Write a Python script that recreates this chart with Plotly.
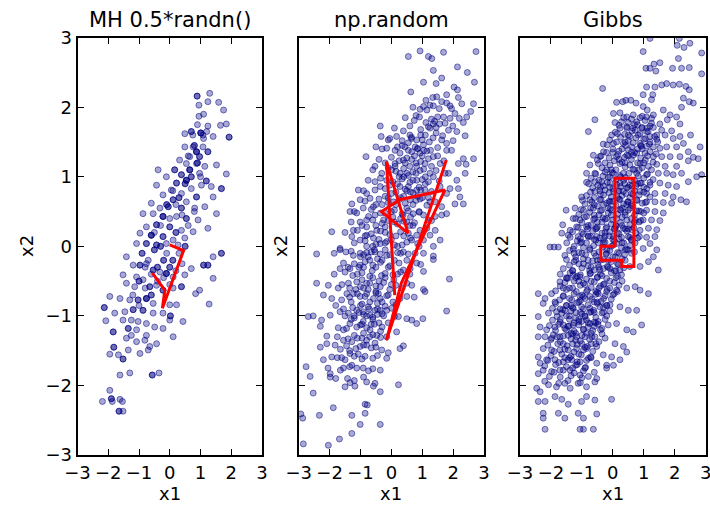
import plotly.graph_objects as go

# ---------------- data ----------------
titles = ["MH 0.5*randn()", "np.random", "Gibbs"]
tick_values = [-3, -2, -1, 0, 1, 2, 3]

mh_points = [
    (0.89, 2.16), (1.30, 2.20), (0.95, 2.03), (1.24, 2.08), (1.59, 2.07), (1.75, 1.96), (0.95, 1.87),
    (1.84, 1.76), (1.93, 1.57), (1.65, 1.74), (1.24, 1.73), (1.01, 1.63), (0.49, 1.62), (0.70, 1.65),
    (1.41, 1.58), (1.08, 1.60), (0.76, 1.43), (0.49, 1.43), (1.08, 1.43), (0.87, 1.36), (1.24, 1.36),
    (0.65, 1.29), (0.97, 1.29), (0.32, 1.24), (0.54, 1.19), (0.87, 1.19), (1.52, 1.17), (1.14, 1.15),
    (0.65, 1.10), (0.16, 1.10), (-0.38, 1.10), (0.97, 1.05), (0.38, 1.03), (1.84, 1.04), (-0.11, 1.00),
    (0.54, 0.95), (1.19, 0.94), (0.22, 0.91), (-0.43, 0.88), (1.03, 0.88), (1.35, 0.86), (1.68, 0.83),
    (0.70, 0.83), (0.05, 0.81), (0.38, 0.76), (-0.22, 0.74), (0.87, 0.71), (1.41, 0.71), (0.11, 0.67),
    (-0.60, 0.62), (0.54, 0.64), (-0.87, 0.47), (-0.32, 0.55), (-0.05, 0.57), (0.38, 0.55), (0.81, 0.55),
    (1.14, 0.57), (1.52, 0.47), (-0.54, 0.47), (-0.22, 0.43), (0.22, 0.43), (0.54, 0.40), (0.92, 0.38),
    (1.24, 0.26), (-0.76, 0.28), (-0.43, 0.31), (0.00, 0.28), (0.38, 0.23), (0.76, 0.21), (-0.97, 0.19),
    (-0.60, 0.16), (-0.22, 0.14), (0.11, 0.09), (0.49, 0.12), (-1.08, 0.04), (-0.76, 0.04), (-0.43, 0.02),
    (-0.11, 0.04), (0.27, 0.02),
    (1.68, -0.10), (1.41, -0.15), (1.10, -0.27), (1.24, -0.27), (0.70, -0.32), (1.41, -0.46), (0.49, -0.41),
    (0.11, -0.44), (-0.32, -0.37), (-0.11, -0.39), (-0.54, -0.34), (-0.76, -0.25), (-0.97, -0.27),
    (-1.19, -0.27), (-1.41, -0.15), (-1.52, -0.41), (-1.08, -0.44), (-0.87, -0.48), (-1.41, -0.53),
    (-1.14, -0.58), (-0.65, -0.58), (-0.43, -0.56), (-0.22, -0.63), (0.11, -0.60), (0.38, -0.58),
    (0.97, -0.63), (0.84, -0.68), (-1.95, -0.72), (-1.62, -0.75), (-1.30, -0.77), (-1.03, -0.77),
    (-0.76, -0.75), (-0.54, -0.82), (0.00, -0.84), (0.22, -0.84), (1.28, -0.83), (-2.13, -0.88),
    (-1.79, -0.96), (-1.46, -0.94), (-1.19, -0.91), (-0.87, -0.92), (-0.54, -0.96), (-0.22, -0.96),
    (0.02, -1.00), (0.00, -1.06), (0.43, -1.08), (-2.08, -1.07), (-1.52, -1.06), (-1.25, -1.06),
    (-1.03, -1.08), (-0.76, -1.11), (-0.49, -1.16), (-0.22, -1.18), (-1.84, -1.23), (-1.35, -1.18),
    (-1.08, -1.20), (-0.76, -1.28), (-0.43, -1.40), (0.11, -1.30), (-1.25, -1.28), (-1.41, -1.32),
    (-1.08, -1.37), (-0.81, -1.35), (-1.82, -1.45), (-1.95, -1.55), (-1.67, -1.56), (-1.52, -1.62),
    (-1.35, -1.49), (-0.97, -1.54), (-0.70, -1.49), (-0.65, -1.44), (-1.62, -1.85), (-1.30, -1.82),
    (-0.57, -1.85), (-0.35, -1.82), (-1.95, -2.07), (-2.19, -2.23), (-1.90, -2.19), (-1.87, -2.23),
    (-1.62, -2.20), (-1.54, -2.23), (-1.65, -2.37), (-1.52, -2.37),
    (-0.9, -0.1), (-0.7, -0.2), (-0.5, -0.05), (-0.3, 0.0), (-0.1, -0.1), (0.1, -0.2), (0.3, -0.1),
    (0.5, 0.0), (-0.6, -0.4), (-0.4, -0.3), (-0.2, -0.2), (0.0, -0.3), (0.2, -0.35), (0.4, -0.25),
    (-1.0, -0.5), (-0.8, -0.6), (-0.6, -0.7), (-0.4, -0.5), (-0.2, -0.45), (0.0, -0.55), (-1.2, -0.7),
    (-1.0, -0.85), (-0.8, -0.3), (-0.5, 0.2), (-0.3, 0.3), (0.0, 0.4), (0.2, 0.2), (0.4, 0.45),
    (0.6, 0.3), (0.8, 0.5), (0.3, 0.7), (0.5, 0.9), (0.7, 1.0), (0.9, 1.2), (1.0, 1.0), (0.6, 1.3),
    (0.8, 1.45), (0.2, 0.6), (-0.1, 0.6), (0.1, 0.8), (1.1, 1.55), (0.75, 1.6), (0.9, 1.75),
    (1.2, 1.65), (1.1, 1.9),
]
# MH samples that were repeated (rejected proposals keep the chain in place)
mh_repeated = [
    (0.89, 2.16), (1.93, 1.57), (1.01, 1.63), (0.70, 1.65), (0.87, 1.36), (1.24, 1.36), (0.97, 1.29),
    (0.65, 1.10), (0.54, 0.95), (0.16, 1.10), (0.38, 1.03), (1.19, 0.94), (1.68, 0.83), (0.22, 0.91),
    (0.87, 0.71), (0.11, 0.67), (0.38, 0.55), (-0.05, 0.57), (0.54, 0.40), (-0.22, 0.43), (-0.43, 0.31),
    (0.00, 0.28), (-0.60, 0.16), (-0.22, 0.14), (-0.76, 0.04), (-0.43, 0.02), (-0.11, -0.39),
    (-0.54, -0.34), (-0.97, -0.27), (-0.65, -0.58), (-0.22, -0.63), (0.38, -0.58), (-1.03, -0.77),
    (-0.76, -0.75), (-1.19, -0.91), (-0.87, -0.92), (0.02, -1.00), (-2.13, -0.88), (-1.82, -1.45),
    (-1.52, -1.62), (-1.84, -1.23), (-1.35, -1.18), (-0.57, -1.85), (-1.65, -2.37), (-1.90, -2.19),
    (1.10, -0.27), (1.24, -0.27), (1.68, -0.10), (-0.9, -0.1), (-0.5, -0.05), (0.1, -0.2), (0.5, 0.0),
    (-0.4, -0.3), (0.0, -0.3), (-0.6, -0.7), (0.3, 0.7), (0.7, 1.0), (0.9, 1.2), (0.8, 1.45), (-0.1, 0.6),
    (0.65, 1.10), (0.54, 0.95), (-0.22, 0.43), (-0.60, 0.16), (-0.11, -0.39), (-0.76, -0.75),
    (0.87, 1.36), (1.01, 1.63), (-0.3, 0.0), (-0.2, -0.2), (0.2, 0.2), (-1.0, -0.5), (0.5, 0.9),
]

np_points = [
    (0.93, 2.81), (1.69, 2.79), (2.74, 2.80), (0.55, 2.73), (1.20, 2.73), (1.31, 2.70), (2.14, 2.58),
    (1.36, 2.53), (2.46, 2.50), (1.04, 2.36), (1.45, 2.34), (1.63, 2.42), (2.69, 2.36), (0.63, 2.22),
    (2.03, 2.29), (2.14, 2.25), (1.79, 2.18), (2.17, 2.14), (1.34, 2.14), (1.47, 2.15), (1.63, 2.08),
    (1.12, 2.10), (1.04, 2.01), (2.28, 2.05), (2.66, 2.05), (0.93, 1.97), (1.15, 1.96), (1.36, 2.02),
    (1.79, 2.06), (1.95, 1.98), (2.06, 1.91), (2.57, 1.94), (2.44, 1.86), (2.33, 1.78), (1.69, 1.86),
    (1.90, 1.84), (0.91, 1.86), (1.12, 1.78), (0.74, 1.81), (1.36, 1.76), (1.56, 1.76), (1.74, 1.77),
    (1.99, 1.73), (1.25, 1.70), (2.12, 1.65), (2.39, 1.59), (1.45, 1.63), (1.66, 1.59), (-0.36, 1.73),
    (-0.33, 1.58), (-0.10, 1.53), (0.17, 1.58), (0.39, 1.66), (0.44, 1.43), (0.55, 1.49), (0.82, 1.53),
    (0.77, 1.43), (1.04, 1.46), (1.23, 1.50), (1.63, 1.53), (1.79, 1.48), (-0.50, 1.43), (-0.82, 1.29),
    (-0.15, 1.41), (0.12, 1.38), (0.28, 1.34), (0.66, 1.36), (0.93, 1.34), (1.27, 1.38), (1.36, 1.29),
    (1.79, 1.38), (1.95, 1.38), (2.33, 1.26), (2.66, 1.26), (-0.53, 1.15), (-0.20, 1.20), (0.12, 1.19),
    (0.39, 1.24), (0.66, 1.25), (0.82, 1.15), (1.09, 1.19), (1.58, 1.19), (1.85, 1.05), (2.17, 1.19),
    (2.42, 1.18), (2.39, 1.05), (-0.31, 1.05), (0.01, 1.10), (0.28, 1.05), (0.50, 1.05), (0.93, 1.09),
    (1.25, 1.05), (1.74, 1.05), (-0.53, 0.93), (-0.15, 0.95), (0.82, 0.95), (1.20, 0.93), (1.36, 1.00),
    (2.12, 0.95), (2.17, 0.83), (1.90, 0.83), (-1.07, 0.81), (-0.80, 0.76), (-0.53, 0.81), (-0.36, 0.86),
    (0.01, 0.76), (0.28, 0.86), (0.55, 0.86), (0.82, 0.81), (1.09, 0.81), (1.58, 0.86), (1.79, 0.76),
    (2.22, 0.71), (2.33, 0.61), (2.06, 0.61), (-1.28, 0.61), (-1.01, 0.67), (-0.69, 0.69), (-0.58, 0.57),
    (0.07, 0.64), (0.61, 0.67), (0.93, 0.68), (1.15, 0.59), (1.42, 0.64), (1.63, 0.57), (1.42, 0.43),
    (1.63, 0.45), (1.79, 0.47), (-1.93, 0.21), (-1.34, 0.50), (-1.12, 0.48), (-0.91, 0.55), (-0.74, 0.43),
    (-0.53, 0.45), (-0.20, 0.48), (0.71, 0.47), (1.04, 0.45), (1.20, 0.38), (0.50, 0.35), (-1.01, 0.35),
    (-0.80, 0.28), (-0.47, 0.23), (-0.20, 0.28), (-1.23, 0.23), (0.93, 0.23), (1.15, 0.26), (1.42, 0.23),
    (1.58, 0.09), (-1.66, -0.03), (-1.28, 0.14), (-1.01, 0.09), (-0.80, 0.16), (-0.58, 0.12),
    (-0.36, 0.04), (0.66, 0.09), (0.82, 0.16), (1.04, 0.09), (1.25, 0.16), (1.36, 0.00),
    (-2.42, -0.11), (-1.66, -0.05), (-1.47, -0.08), (-1.23, -0.13), (-1.01, -0.10), (-0.80, -0.09),
    (-0.53, -0.08), (-0.36, -0.11), (0.39, -0.08), (0.77, -0.10), (1.04, -0.10), (1.36, -0.14),
    (1.36, -0.19), (1.04, -0.36), (0.82, -0.24), (0.61, -0.32), (0.39, -0.34), (-1.01, -0.27),
    (-1.34, -0.32), (-1.66, -0.32), (-1.55, -0.24), (-2.42, -0.53), (-2.04, -0.56), (-1.72, -0.60),
    (-1.39, -0.53), (-1.12, -0.51), (-0.80, -0.53), (-0.36, -0.58), (0.50, -0.53), (0.66, -0.56),
    (1.88, -0.47), (-1.93, -0.75), (-1.61, -0.77), (-1.44, -0.68), (-1.23, -0.68), (-1.01, -0.72),
    (-0.80, -0.68), (-0.58, -0.75), (-0.36, -0.75), (0.28, -0.75), (0.50, -0.72), (0.74, -0.73),
    (1.04, -0.62), (1.09, -0.65), (-2.69, -1.01), (-2.53, -1.00), (-2.26, -1.06), (-1.98, -0.99),
    (-1.66, -0.94), (-1.39, -0.96), (-1.12, -0.92), (-0.91, -0.94), (-0.69, -0.99), (-0.53, -0.92),
    (-0.36, -0.92), (0.01, -0.89), (0.23, -1.01), (0.50, -1.04), (0.66, -1.06), (0.82, -1.11),
    (1.02, -1.04), (1.79, -0.93), (-2.09, -1.29), (-1.72, -1.17), (-1.55, -1.20), (-1.34, -1.11),
    (-1.12, -1.16), (-0.91, -1.08), (-0.69, -1.20), (-0.47, -1.28), (-0.15, -1.30), (0.17, -1.23),
    (-2.09, -1.40), (-1.82, -1.42), (-1.55, -1.35), (-1.28, -1.37), (-1.01, -1.44), (-0.80, -1.42),
    (-0.53, -1.39), (-0.31, -1.49), (-0.10, -1.53), (-0.15, -1.61), (0.28, -1.47), (0.39, -1.43),
    (-2.20, -1.63), (-1.93, -1.59), (-1.61, -1.60), (-1.34, -1.54), (-1.07, -1.55), (-0.85, -1.58),
    (-0.60, -1.61), (-2.76, -1.73), (-2.63, -1.87), (-1.98, -1.83), (-1.98, -1.88), (-1.55, -1.75),
    (-1.42, -1.90), (-1.28, -1.71), (-1.12, -1.75), (-0.91, -1.75), (-0.74, -1.79), (-0.36, -1.78),
    (-1.50, -2.02), (-1.34, -1.96), (-1.18, -2.01), (-0.80, -1.95), (-0.58, -2.01), (-0.53, -1.97),
    (-0.36, -2.09), (0.23, -1.99), (-2.53, -2.11), (-1.88, -2.32), (-0.85, -2.27), (-0.78, -2.28),
    (-2.33, -2.43), (-1.28, -2.43), (-0.85, -2.40), (-1.01, -2.56), (-0.36, -2.56), (-2.87, -2.47),
    (-2.93, -2.41), (-1.28, -2.69), (-1.68, -2.77), (-2.85, -2.84), (-2.04, -2.86),
    (-0.9, -0.3), (-0.7, -0.2), (-0.5, -0.3), (-0.3, -0.2), (-0.1, -0.3), (0.1, -0.2), (0.2, -0.4),
    (-0.6, -0.45), (-0.4, -0.5), (-0.2, -0.45), (0.0, -0.55), (-1.1, -0.4), (-0.9, -0.6), (-0.7, -0.8),
    (-0.5, -0.65), (-0.3, -0.8), (-0.1, -0.7), (-1.0, -0.85), (-0.8, -1.0), (-0.6, -1.05), (-0.4, -1.1),
    (-1.2, -1.0), (-0.9, -1.25), (-0.7, -1.3), (-0.6, 0.0), (-0.4, 0.1), (-0.2, 0.2), (0.0, 0.1),
    (0.2, 0.0), (0.4, 0.15), (0.1, 0.35), (0.3, 0.4), (0.5, 0.55), (0.7, 0.6), (0.9, 0.5), (0.3, 0.7),
    (0.5, 0.8), (0.7, 0.95), (0.9, 0.85), (1.1, 1.0), (0.4, 1.0), (0.6, 1.15), (0.8, 1.2), (1.0, 1.3),
    (0.2, 0.9), (-0.1, 0.7), (-0.3, 0.6), (-0.5, 0.3), (-0.8, 0.0), (-1.0, -0.15), (-0.2, -0.05),
    (0.3, -0.1), (0.6, 0.3), (1.2, 0.7), (1.3, 1.15), (0.85, 1.4), (1.1, 1.6), (1.4, 1.8), (0.6, 1.6),
    (0.0, 0.5), (-0.45, -0.9), (-0.25, -1.0), (-1.3, -0.8), (-1.4, -0.3), (-0.95, 0.3), (0.7, 0.3),
    (0.5, -0.2), (0.9, 0.0), (1.0, 0.7), (1.5, 1.3),
    (0.7, 2.0), (1.25, 2.03), (1.55, 1.98), (1.9, 2.02), (0.45, 1.85), (0.8, 1.88), (1.3, 1.83), (1.5, 1.86),
    (2.2, 1.84), (0.1, 1.7), (0.6, 1.73), (0.95, 1.68), (1.45, 1.71), (1.85, 1.67), (-0.05, 1.55), (0.35, 1.52),
    (0.65, 1.57), (1.0, 1.53), (1.35, 1.56), (2.0, 1.52), (-0.3, 1.4), (0.2, 1.43), (0.55, 1.38), (0.85, 1.41),
    (1.15, 1.37), (1.5, 1.42), (-0.4, 1.25), (0.0, 1.28), (0.25, 1.23), (0.5, 1.27), (0.95, 1.22), (1.2, 1.26),
    (1.7, 1.23), (-0.6, 1.1), (-0.1, 1.13), (0.15, 1.08), (0.4, 1.12), (0.7, 1.07), (1.05, 1.11), (1.45, 1.09),
    (-0.75, 0.95), (-0.35, 0.98), (0.05, 0.93), (0.35, 0.97), (0.6, 0.92), (1.0, 0.96), (1.55, 0.94),
    (-0.9, 0.8), (-0.2, 0.83), (0.15, 0.78), (0.45, 0.82), (0.7, 0.77), (0.95, 0.81), (1.3, 0.79),
    (-0.85, 0.65), (-0.4, 0.68), (-0.1, 0.63), (0.25, 0.67), (0.45, 0.62), (0.8, 0.66), (1.25, 0.64),
    (-1.2, 0.5), (-0.65, 0.53), (-0.35, 0.48), (0.1, 0.52), (0.35, 0.47), (0.55, 0.51), (0.9, 0.49),
    (-1.3, 0.35), (-0.8, 0.38), (-0.3, 0.33), (-0.1, 0.37), (0.2, 0.32), (0.4, 0.36), (0.75, 0.34),
    (1.3, 0.37), (-1.5, 0.2), (-1.1, 0.23), (-0.65, 0.18), (-0.35, 0.22), (-0.05, 0.17), (0.3, 0.21),
    (0.55, 0.19), (-1.2, 0.05), (-0.85, 0.08), (-0.5, 0.03), (-0.15, 0.07), (0.1, 0.02), (0.5, 0.06),
    (0.85, 0.04), (-1.85, -0.1), (-1.3, -0.07), (-0.9, -0.12), (-0.65, -0.08), (-0.15, -0.13), (0.2, -0.09),
    (0.55, -0.11), (-1.2, -0.25), (-0.85, -0.22), (-0.6, -0.27), (-0.35, -0.23), (-0.05, -0.28),
    (0.25, -0.24), (0.95, -0.26), (-1.85, -0.4), (-1.5, -0.37), (-1.25, -0.42), (-0.95, -0.38), (-0.7, -0.43),
    (-0.2, -0.39), (0.05, -0.41), (0.3, -0.37), (-1.6, -0.55), (-1.0, -0.58), (-0.7, -0.53), (-0.5, -0.57),
    (-0.25, -0.52), (0.15, -0.56), (-2.2, -0.7), (-1.35, -0.73), (-1.1, -0.68), (-0.85, -0.72), (-0.5, -0.67),
    (-0.15, -0.71), (-1.8, -0.85), (-1.25, -0.88), (-0.95, -0.83), (-0.75, -0.87), (-0.45, -0.82),
    (-0.2, -0.86), (0.15, -0.84), (-1.5, -1.0), (-1.2, -1.03), (-0.9, -0.98), (-0.6, -1.02), (-0.3, -0.97),
    (0.1, -1.01), (-2.3, -1.15), (-1.45, -1.18), (-1.0, -1.13), (-0.8, -1.17), (-0.55, -1.12), (-0.3, -1.16),
    (-1.75, -1.3), (-1.4, -1.33), (-1.2, -1.28), (-0.95, -1.32), (-0.6, -1.27), (-0.35, -1.31), (-2.3, -1.45),
    (-1.65, -1.48), (-1.45, -1.43), (-1.15, -1.47), (-0.9, -1.42), (-0.65, -1.46), (-1.75, -1.6),
    (-1.5, -1.63), (-1.2, -1.58), (-0.95, -1.62), (-0.45, -1.57), (-2.05, -1.75), (-1.65, -1.78),
    (-1.35, -1.73), (-0.6, -1.76), (-1.8, -1.9), (-1.2, -1.93), (-0.9, -1.88),
    (-0.75, -0.15), (-0.45, -0.18), (-0.05, -0.12), (0.35, 0.02), (0.62, 0.12), (-0.95, -0.48),
    (-0.62, -0.35), (-0.32, -0.42), (0.08, -0.48), (-1.15, -0.62), (-0.75, -0.62), (-0.42, -0.68),
    (-0.05, -0.62), (-1.05, -0.95), (-0.72, -0.9), (-0.45, -0.98), (-0.15, -0.92), (-1.3, -1.05),
    (-0.95, -1.12), (-0.65, -1.12), (-0.35, -1.22), (-1.1, -1.32), (-0.8, -1.35), (-0.5, -1.45),
    (-1.35, -1.5), (-0.25, 0.38), (0.05, 0.42), (0.38, 0.45), (0.62, 0.42), (-0.5, 0.6), (-0.2, 0.72),
    (0.15, 0.6), (0.4, 0.72), (0.62, 0.78), (0.85, 0.72), (-0.05, 0.88), (0.25, 1.0), (0.55, 1.02),
    (0.8, 1.05), (1.1, 0.9), (0.12, 1.15), (0.45, 1.2), (0.75, 1.3), (1.05, 1.38), (0.35, 1.45),
    (0.65, 1.55), (0.95, 1.6), (1.2, 1.72), (-0.6, 0.38), (-0.85, 0.15), (-1.05, -0.3), (-1.35, -0.6),
    (-1.55, -0.9), (-0.2, 0.05), (0.15, 0.15), (-0.55, -0.05), (0.6, -0.4), (0.35, -0.6), (0.05, -0.8),
    (-0.1, -1.1),
]

gibbs_points = [
    (1.20, 2.99), (2.15, 2.99), (2.49, 2.92), (2.08, 2.89), (2.30, 2.86), (2.87, 2.78), (0.98, 2.80),
    (1.07, 2.56), (1.20, 2.56), (1.39, 2.52), (1.52, 2.64), (1.33, 2.62), (1.93, 2.56), (2.22, 2.56),
    (2.47, 2.57), (2.87, 2.48), (2.12, 2.70), (-0.33, 2.27), (1.09, 2.29), (1.36, 2.29), (1.58, 2.32),
    (1.74, 2.34), (1.95, 2.32), (2.15, 2.33), (2.36, 2.30), (2.47, 2.25), (0.98, 2.18), (1.29, 2.18),
    (1.25, 2.11), (2.28, 2.13), (2.47, 2.08), (2.60, 2.06), (0.12, 2.07), (0.32, 2.08), (0.42, 2.10),
    (0.58, 2.10), (0.75, 2.06), (2.22, 2.00), (0.98, 2.01), (1.11, 1.96), (-0.58, 1.82), (0.02, 1.91),
    (0.23, 1.92), (0.45, 1.86), (0.66, 1.89), (0.88, 1.85), (1.09, 1.86), (1.31, 1.89), (1.63, 1.96),
    (1.85, 1.89), (2.06, 1.86), (0.07, 1.78), (0.28, 1.79), (0.50, 1.78), (0.77, 1.79), (1.04, 1.81),
    (1.25, 1.77), (1.52, 1.76), (1.76, 1.82), (2.17, 1.76), (0.23, 1.70), (0.45, 1.72), (0.72, 1.67),
    (0.93, 1.70), (1.09, 1.65), (1.31, 1.71), (1.58, 1.67), (1.90, 1.66), (-0.79, 1.65), (-0.04, 1.60),
    (0.15, 1.62), (0.55, 1.58), (0.82, 1.60), (1.20, 1.58), (1.42, 1.54), (1.69, 1.60), (1.95, 1.55),
    (2.17, 1.58), (2.51, 1.60), (2.82, 1.43), (-0.31, 1.47), (0.02, 1.48), (0.34, 1.48), (0.61, 1.43),
    (0.88, 1.48), (1.09, 1.44), (1.31, 1.43), (1.52, 1.41), (1.74, 1.43), (2.06, 1.43), (2.28, 1.48),
    (2.44, 1.36), (2.76, 1.26), (-0.63, 1.31), (-0.42, 1.29), (-0.20, 1.35), (0.12, 1.29), (0.45, 1.31),
    (0.77, 1.34), (1.04, 1.34), (1.31, 1.29), (1.58, 1.29), (1.85, 1.29), (2.17, 1.29), (2.60, 1.28),
    (2.44, 1.23), (-0.74, 1.17), (-0.47, 1.19), (-0.09, 1.17), (0.23, 1.19), (0.55, 1.17), (0.88, 1.19),
    (1.15, 1.15), (1.42, 1.18), (1.69, 1.15), (2.06, 1.15), (2.87, 1.03), (2.71, 1.00), (-0.85, 1.05),
    (-0.58, 1.05), (-0.25, 1.07), (0.02, 1.05), (0.34, 1.05), (0.77, 1.05), (1.09, 1.03), (1.47, 1.05),
    (1.74, 1.05), (1.95, 1.03), (2.22, 1.05), (2.44, 0.93), (-0.85, 0.92), (-0.58, 0.93), (-0.36, 0.93),
    (-0.09, 0.91), (0.23, 0.91), (0.55, 0.88), (0.88, 0.91), (1.20, 0.92), (1.52, 0.91), (1.79, 0.88),
    (2.06, 0.86), (-0.58, 0.79), (-0.25, 0.81), (0.02, 0.79), (0.34, 0.79), (0.61, 0.76), (0.88, 0.79),
    (1.09, 0.76), (1.36, 0.76), (1.69, 0.76), (1.95, 0.71), (2.20, 0.67), (2.38, 0.64), (-1.01, 0.71),
    (-0.74, 0.67), (-0.42, 0.67), (-0.09, 0.64), (0.23, 0.67), (0.50, 0.64), (0.77, 0.67), (1.09, 0.64),
    (1.36, 0.64), (1.63, 0.63), (1.90, 0.62), (-1.51, 0.52), (-1.22, 0.55), (-0.95, 0.52), (-0.63, 0.55),
    (-0.36, 0.52), (-0.04, 0.52), (0.23, 0.53), (0.50, 0.52), (0.77, 0.51), (1.09, 0.52), (1.36, 0.50),
    (1.63, 0.48), (-1.28, 0.40), (-1.06, 0.38), (-0.85, 0.43), (-0.58, 0.40), (-0.25, 0.39), (0.12, 0.40),
    (0.45, 0.38), (0.72, 0.38), (0.98, 0.38), (1.25, 0.38), (1.52, 0.37), (-1.62, 0.31), (-1.38, 0.23),
    (-1.17, 0.28), (-0.85, 0.28), (-0.52, 0.26), (-0.20, 0.28), (0.07, 0.26), (0.34, 0.26), (0.61, 0.24),
    (0.88, 0.23), (1.15, 0.26), (1.42, 0.24), (-1.65, 0.19), (-1.44, 0.16), (-1.12, 0.14), (-0.79, 0.14),
    (-0.52, 0.14), (-0.25, 0.15), (0.02, 0.14), (0.28, 0.13), (0.55, 0.13), (0.86, 0.14), (1.09, 0.13),
    (1.36, 0.14), (-2.03, -0.01), (-1.90, -0.01), (-1.76, -0.01), (-1.49, 0.05), (-1.28, -0.04),
    (-1.01, 0.06), (-0.74, -0.03), (-0.47, 0.05), (-0.20, -0.05), (0.12, 0.04), (0.45, -0.04), (0.72, 0.05),
    (0.98, -0.03), (1.20, 0.04), (1.42, -0.05),
    (-2.41, -0.68), (-2.19, -0.75), (-1.98, -0.68), (-1.71, -0.51), (-1.49, -0.46), (-1.28, -0.41),
    (-1.06, -0.44), (-0.74, -0.39), (-0.42, -0.34), (-0.09, -0.32), (0.23, -0.34), (0.55, -0.29),
    (0.88, -0.29), (1.15, -0.22), (1.47, -0.34), (1.31, -0.15), (-2.25, -0.82), (-1.87, -0.80),
    (-1.60, -0.72), (-1.33, -0.77), (-1.06, -0.72), (-0.74, -0.72), (-0.47, -0.68), (-0.20, -0.65),
    (0.12, -0.63), (0.45, -0.60), (0.72, -0.58), (0.88, -0.63), (1.15, -0.68), (-2.41, -1.01),
    (-2.08, -0.96), (-1.82, -0.94), (-1.55, -0.92), (-1.28, -0.89), (-1.01, -0.87), (-0.74, -0.89),
    (-0.42, -0.87), (-0.09, -0.84), (0.23, -0.87), (0.50, -0.92), (0.77, -0.92), (0.93, -1.13),
    (-2.35, -1.16), (-2.14, -1.20), (-1.87, -1.16), (-1.60, -1.13), (-1.28, -1.13), (-1.01, -1.08),
    (-0.74, -1.11), (-0.47, -1.08), (-0.15, -1.13), (0.12, -1.11), (0.45, -1.20), (0.66, -1.23),
    (-2.41, -1.30), (-2.19, -1.30), (-1.98, -1.32), (-1.71, -1.30), (-1.44, -1.28), (-1.17, -1.30),
    (-0.90, -1.30), (-0.58, -1.30), (-0.25, -1.32), (0.07, -1.40), (0.34, -1.44), (-2.25, -1.47),
    (-1.98, -1.49), (-1.71, -1.49), (-1.44, -1.49), (-1.17, -1.47), (-0.85, -1.47), (-0.52, -1.44),
    (-0.31, -1.56), (-0.04, -1.59), (0.23, -1.63), (0.45, -1.52), (-2.41, -1.59), (-2.35, -1.68),
    (-2.14, -1.63), (-1.87, -1.63), (-1.60, -1.66), (-1.33, -1.63), (-1.06, -1.66), (-0.79, -1.61),
    (-0.52, -1.68), (-0.20, -1.71), (0.02, -1.71), (-2.41, -1.83), (-2.25, -1.78), (-1.98, -1.80),
    (-1.71, -1.78), (-1.38, -1.78), (-1.06, -1.85), (-0.79, -1.87), (-0.52, -1.90), (-0.20, -1.75),
    (-2.46, -2.04), (-2.35, -2.09), (-2.08, -1.99), (-1.82, -2.02), (-1.55, -1.97), (-1.38, -2.04),
    (-1.12, -1.97), (-0.85, -2.02), (-0.58, -1.95), (-2.41, -2.23), (-2.19, -2.23), (-1.87, -2.16),
    (-1.65, -2.20), (-1.44, -2.27), (-1.01, -2.23), (-0.85, -2.16), (-0.58, -2.21), (-0.04, -2.20),
    (-2.25, -2.40), (-2.25, -2.47), (-1.76, -2.40), (-1.55, -2.47), (-1.12, -2.40), (-0.95, -2.47),
    (-0.52, -2.41), (-2.19, -2.63), (-1.06, -2.63), (-0.95, -2.63), (-0.63, -2.63),
    (-1.2, -0.2), (-1.0, -0.1), (-0.8, -0.2), (-0.6, -0.1), (-0.4, -0.2), (-0.2, -0.1), (0.0, -0.15),
    (0.2, -0.1), (0.4, -0.2), (0.6, -0.1), (-1.1, -0.5), (-0.9, -0.55), (-0.7, -0.5), (-0.5, -0.45),
    (-0.3, -0.55), (-0.1, -0.5), (0.1, -0.45), (0.3, -0.5), (-1.3, -0.6), (-1.1, -0.8), (-0.9, -0.75),
    (-0.6, -0.8), (-0.3, -0.75), (0.0, -0.7), (-1.4, -1.0), (-1.2, -0.95), (-0.9, -1.0), (-0.6, -0.95),
    (-0.3, -0.95), (-1.5, -1.2), (-1.2, -1.25), (-0.95, -1.2), (-0.7, -1.25), (-0.4, -1.2), (-1.3, -1.4),
    (-1.0, -1.4), (-0.7, -1.4), (-1.4, -1.6), (-1.1, -1.55), (-0.9, -1.75), (-0.6, 0.1), (-0.3, 0.05),
    (0.0, 0.1), (0.3, 0.05), (0.6, 0.1), (-0.8, 0.3), (-0.5, 0.35), (-0.2, 0.4), (0.1, 0.3), (0.4, 0.45),
    (0.7, 0.35), (-0.6, 0.6), (-0.3, 0.6), (0.0, 0.65), (0.3, 0.55), (0.6, 0.6), (0.9, 0.5), (-0.4, 0.85),
    (-0.1, 0.85), (0.2, 0.8), (0.5, 0.85), (0.8, 0.9), (-0.2, 1.1), (0.1, 1.1), (0.4, 1.2), (0.7, 1.1),
    (1.0, 1.2), (0.0, 1.35), (0.3, 1.4), (0.6, 1.35), (0.9, 1.45), (1.2, 1.5), (0.5, 1.6), (0.8, 1.75),
    (1.1, 1.7), (-1.0, 0.2), (-1.3, -0.35), (-1.6, -0.6), (-1.7, -0.9), (-1.8, -1.3), (-1.5, -0.85),
    (-0.45, -0.3), (-0.15, -0.3), (0.15, -0.25), (-0.75, -0.35), (-0.55, -0.65), (-0.25, 0.2),
    (0.15, 0.2), (0.5, 0.25), (-0.05, 0.45), (0.35, 0.95), (0.65, 0.75), (1.0, 0.85), (1.25, 1.1),
    (-1.05, -0.95), (-0.8, -1.1), (-1.25, -1.1), (-0.55, -1.1), (-1.6, -1.4), (-1.15, -1.7),
    (0.2, 1.74), (0.45, 1.7), (0.7, 1.75), (0.95, 1.71), (1.2, 1.73), (-0.1, 1.53), (0.25, 1.57),
    (0.5, 1.52), (0.75, 1.56), (1.0, 1.54), (1.35, 1.58), (-0.3, 1.36), (0.0, 1.4), (0.2, 1.37),
    (0.5, 1.39), (0.7, 1.35), (0.95, 1.4), (1.2, 1.36), (-0.5, 1.24), (-0.25, 1.2), (0.05, 1.23),
    (0.3, 1.21), (0.6, 1.25), (0.8, 1.2), (1.05, 1.24), (1.3, 1.21), (-0.35, 1.13), (-0.05, 1.1),
    (0.4, 1.14), (0.65, 1.11), (0.95, 1.13), (-0.7, 0.98), (-0.45, 0.95), (-0.15, 0.99), (0.1, 0.96),
    (0.4, 0.99), (0.7, 0.95), (1.0, 0.98), (1.3, 0.96), (-0.65, 0.84), (-0.3, 0.87), (0.0, 0.83),
    (0.25, 0.86), (0.45, 0.84), (0.75, 0.87), (1.1, 0.83), (-0.85, 0.73), (-0.6, 0.7), (-0.3, 0.74),
    (-0.05, 0.71), (0.3, 0.73), (0.55, 0.7), (0.85, 0.74), (1.2, 0.71), (-0.9, 0.61), (-0.5, 0.58),
    (-0.2, 0.62), (0.1, 0.59), (0.35, 0.61), (0.65, 0.58), (0.95, 0.62), (-1.1, 0.46), (-0.75, 0.49),
    (-0.45, 0.45), (-0.15, 0.48), (0.15, 0.46), (0.4, 0.49), (0.7, 0.45), (1.0, 0.48), (-1.0, 0.34),
    (-0.7, 0.31), (-0.35, 0.35), (-0.05, 0.32), (0.25, 0.34), (0.55, 0.31), (0.85, 0.35), (-1.3, 0.21),
    (-0.95, 0.18), (-0.65, 0.22), (-0.35, 0.19), (-0.1, 0.21), (0.2, 0.18), (0.45, 0.22), (0.75, 0.19),
    (-1.15, 0.08), (-0.85, 0.05), (-0.55, 0.09), (-0.25, 0.06), (0.05, 0.08), (0.35, 0.05), (0.6, 0.09),
    (-1.4, -0.06), (-1.1, -0.09), (-0.75, -0.05), (-0.45, -0.08), (-0.1, -0.06), (0.15, -0.09),
    (0.4, -0.05), (0.7, -0.08), (-1.5, -0.19), (-1.25, -0.22), (-0.95, -0.18), (-0.65, -0.21), (-0.3, -0.19),
    (-0.05, -0.22), (0.3, -0.18), (-1.6, -0.32), (-1.3, -0.35), (-1.0, -0.31), (-0.6, -0.34), (-0.3, -0.32),
    (0.05, -0.35), (0.35, -0.31), (-1.45, -0.46), (-1.15, -0.43), (-0.85, -0.47), (-0.5, -0.44),
    (-0.2, -0.46), (0.15, -0.43), (-1.7, -0.57), (-1.4, -0.6), (-1.05, -0.56), (-0.7, -0.59),
    (-0.4, -0.57), (-0.1, -0.6), (0.2, -0.56), (-1.6, -0.71), (-1.25, -0.68), (-0.95, -0.72), (-0.55, -0.69),
    (-0.25, -0.71), (0.05, -0.68), (-1.85, -0.82), (-1.5, -0.85), (-1.15, -0.81), (-0.8, -0.84),
    (-0.5, -0.82), (-0.2, -0.85), (-1.65, -0.96), (-1.35, -0.93), (-1.0, -0.97), (-0.7, -0.94),
    (-0.35, -0.96), (-0.1, -0.93), (-1.95, -1.06), (-1.7, -1.09), (-1.4, -1.05), (-1.1, -1.08),
    (-0.85, -1.06), (-0.6, -1.09), (-0.25, -1.05), (-1.85, -1.21), (-1.55, -1.18), (-1.25, -1.22),
    (-0.95, -1.19), (-0.65, -1.21), (-0.35, -1.18), (-2.0, -1.34), (-1.7, -1.37), (-1.35, -1.33),
    (-1.05, -1.36), (-0.75, -1.34), (-0.45, -1.37), (-1.9, -1.51), (-1.55, -1.48), (-1.25, -1.52),
    (-0.95, -1.49), (-0.65, -1.51), (-2.1, -1.64), (-1.75, -1.67), (-1.45, -1.63), (-1.15, -1.66),
    (-0.85, -1.64), (-1.9, -1.81), (-1.6, -1.78), (-1.25, -1.82), (-0.95, -1.79), (-0.6, -1.81),
    (-2.2, -1.94), (-1.75, -1.97), (-1.45, -1.93), (-1.05, -1.96),
    (-0.95, -0.25), (-0.7, -0.3), (-0.4, -0.4), (-0.15, -0.2), (0.1, -0.35), (-1.2, -0.45),
    (-0.85, -0.65), (-0.45, -0.6), (-0.2, -0.85), (-1.0, -0.7), (-0.75, -0.95), (-0.5, -0.8),
    (-1.35, -0.85), (-1.1, -1.05), (-0.85, -1.25), (-0.6, -1.15), (-1.45, -1.15), (-1.2, -1.35),
    (-0.9, -1.45), (-1.35, -1.25), (-0.3, 0.1), (-0.55, 0.25), (0.05, 0.25), (0.3, 0.3), (-0.8, 0.15),
    (-0.15, 0.55), (0.45, 0.6), (0.15, 0.7), (-0.4, 0.75), (0.6, 0.95), (0.25, 1.0), (-0.1, 1.0),
    (0.85, 1.1), (0.5, 1.3), (0.2, 1.25), (0.8, 1.4), (1.05, 1.55), (0.4, 1.5), (0.65, 1.7), (-0.6, 0.45),
    (-1.05, 0.05), (-1.25, -0.1), (-1.5, -0.45), (-0.5, -0.2), (-0.05, 0.0), (0.5, -0.05), (-1.7, -1.05),
    (-1.55, -1.6), (-1.3, -1.75), (-0.7, -1.6),
    (0.08, 1.64), (0.38, 1.61), (0.62, 1.66), (0.88, 1.62), (1.14, 1.65), (1.42, 1.6),
    (-0.18, 1.46), (0.12, 1.5), (0.41, 1.45), (0.66, 1.49), (0.92, 1.44), (1.18, 1.47), (1.45, 1.5),
    (-0.38, 1.3), (-0.12, 1.27), (0.16, 1.32), (0.38, 1.28), (0.66, 1.31), (0.9, 1.27), (1.12, 1.3), (1.4, 1.33),
    (-0.55, 1.04), (-0.32, 1.01), (-0.02, 1.06), (0.22, 1.02), (0.52, 1.05), (0.82, 1.01), (1.12, 1.04),
    (-0.78, 0.9), (-0.48, 0.88), (-0.18, 0.92), (0.12, 0.89), (0.38, 0.9), (0.62, 0.87), (0.92, 0.91), (1.2, 0.88),
    (-0.72, 0.78), (-0.42, 0.8), (-0.12, 0.77), (0.18, 0.79), (0.42, 0.76), (0.7, 0.8), (1.0, 0.78),
    (-0.98, 0.66), (-0.68, 0.64), (-0.38, 0.67), (-0.12, 0.65), (0.2, 0.68), (0.48, 0.64), (0.78, 0.66), (1.05, 0.63),
    (-1.02, 0.53), (-0.72, 0.55), (-0.4, 0.51), (-0.08, 0.54), (0.26, 0.52), (0.56, 0.55), (0.84, 0.51),
    (-1.2, 0.4), (-0.92, 0.42), (-0.62, 0.39), (-0.32, 0.41), (0.0, 0.38), (0.3, 0.42), (0.6, 0.4), (0.9, 0.37),
    (-1.12, 0.27), (-0.82, 0.25), (-0.5, 0.28), (-0.22, 0.26), (0.1, 0.29), (0.4, 0.25), (0.68, 0.27),
    (-1.38, 0.13), (-1.05, 0.11), (-0.72, 0.14), (-0.42, 0.12), (-0.12, 0.15), (0.2, 0.11), (0.5, 0.14), (0.8, 0.12),
    (-1.25, 0.0), (-0.95, -0.02), (-0.62, 0.01), (-0.32, -0.01), (0.02, 0.02), (0.28, -0.02), (0.55, 0.01),
    (-1.55, -0.13), (-1.2, -0.15), (-0.88, -0.12), (-0.55, -0.14), (-0.22, -0.11), (0.08, -0.15), (0.38, -0.12),
    (-1.4, -0.27), (-1.1, -0.25), (-0.8, -0.28), (-0.48, -0.26), (-0.18, -0.29), (0.18, -0.26),
    (-1.7, -0.4), (-1.38, -0.38), (-1.05, -0.41), (-0.72, -0.39), (-0.35, -0.42), (-0.05, -0.38), (0.28, -0.41),
    (-1.55, -0.52), (-1.25, -0.5), (-0.95, -0.53), (-0.6, -0.51), (-0.28, -0.54), (0.05, -0.52),
    (-1.85, -0.64), (-1.5, -0.62), (-1.18, -0.65), (-0.82, -0.63), (-0.5, -0.66), (-0.18, -0.62), (0.15, -0.65),
    (-1.72, -0.77), (-1.4, -0.75), (-1.05, -0.78), (-0.68, -0.76), (-0.38, -0.79), (-0.05, -0.76),
    (-1.95, -0.89), (-1.62, -0.91), (-1.3, -0.88), (-0.95, -0.9), (-0.62, -0.92), (-0.3, -0.88),
    (-1.8, -1.01), (-1.5, -1.0), (-1.2, -1.03), (-0.9, -1.01), (-0.55, -1.02), (-0.2, -1.0),
    (-2.05, -1.14), (-1.75, -1.12), (-1.42, -1.15), (-1.1, -1.13), (-0.8, -1.16), (-0.48, -1.12),
    (-1.92, -1.27), (-1.6, -1.29), (-1.3, -1.26), (-1.0, -1.28), (-0.68, -1.3), (-0.35, -1.26),
    (-2.1, -1.42), (-1.78, -1.4), (-1.48, -1.43), (-1.15, -1.41), (-0.82, -1.44), (-0.55, -1.4),
    (-2.0, -1.57), (-1.65, -1.55), (-1.35, -1.58), (-1.02, -1.56), (-0.72, -1.59),
    (-2.2, -1.72), (-1.85, -1.7), (-1.5, -1.73), (-1.2, -1.71), (-0.88, -1.74),
    (-2.05, -1.87), (-1.7, -1.88), (-1.35, -1.86), (-1.0, -1.89),
    (0.35, 1.85), (0.6, 1.83), (0.95, 1.87), (1.25, 1.84),
]

# red trajectories (first few steps of each sampler)
mh_path_x = [0.00, 0.45, -0.24, -0.16, -0.57]
mh_path_y = [0.02, -0.06, -0.89, -0.63, -0.38]
np_path_x = [0.11, -0.16, 0.54, -0.32, 0.27, 1.73, 0.32, -0.16, 1.78]
np_path_y = [-0.70, 1.22, 0.19, 0.50, 0.67, 0.81, -0.53, -1.35, 1.24]
gibbs_path_x = [0.07, 0.07, 0.68, 0.68, 0.29, 0.29, -0.39, -0.39, 0.07]
gibbs_path_y = [0.00, 0.98, 0.98, -0.29, -0.29, -0.20, -0.20, 0.00, 0.00]

# ---------------- figure ----------------
FONT = "DejaVu Sans"
NAVY_FILL = "rgba(0,0,128,0.34)"
NAVY_EDGE = "rgba(0,0,128,0.5)"

scatter_sets = [mh_points + mh_repeated, np_points, gibbs_points]
paths = [(mh_path_x, mh_path_y), (np_path_x, np_path_y), (gibbs_path_x, gibbs_path_y)]
x_domains = [(0.1092, 0.3690), (0.4207, 0.6817), (0.7324, 0.9939)]
y_domain = (0.1043, 0.9258)

fig = go.Figure()
for i, (pts, (px, py)) in enumerate(zip(scatter_sets, paths)):
    ax = "" if i == 0 else str(i + 1)
    xs = [p[0] for p in pts]
    ys = [p[1] for p in pts]
    fig.add_trace(go.Scatter(
        x=xs, y=ys, mode="markers", xaxis="x" + ax, yaxis="y" + ax, showlegend=False,
        marker=dict(size=6, color=NAVY_FILL, line=dict(color=NAVY_EDGE, width=1)),
        hoverinfo="skip",
    ))
    fig.add_trace(go.Scatter(
        x=px, y=py, mode="lines", xaxis="x" + ax, yaxis="y" + ax, showlegend=False,
        line=dict(color="#ff0000", width=3), hoverinfo="skip",
    ))

axis_common = dict(
    range=[-3, 3], tickvals=tick_values, ticks="inside", ticklen=6, tickwidth=1.2, tickcolor="black",
    mirror="ticks", showline=True, linecolor="black", linewidth=2, showgrid=False, zeroline=False,
    tickfont=dict(family=FONT, size=18, color="black"), fixedrange=True, automargin=False,
    ticklabeloverflow="allow",
)

layout = dict(
    width=710, height=508, margin=dict(l=0, r=0, t=0, b=0, pad=0),
    paper_bgcolor="white", plot_bgcolor="white", font=dict(family=FONT, color="black"),
    annotations=[],
)
for i in range(3):
    ax = "" if i == 0 else str(i + 1)
    xa = dict(axis_common, domain=list(x_domains[i]), anchor="y" + ax)
    ya = dict(axis_common, domain=list(y_domain), anchor="x" + ax, showticklabels=(i == 0))
    layout["xaxis" + ax] = xa
    layout["yaxis" + ax] = ya
    xc = (x_domains[i][0] + x_domains[i][1]) / 2
    layout["annotations"].append(dict(
        text=titles[i], x=xc, y=1 - 20 / 508, xref="paper", yref="paper", showarrow=False,
        xanchor="center", yanchor="middle", font=dict(family=FONT, size=21, color="black")))
    layout["annotations"].append(dict(
        text="x1", x=xc, y=1 - 493 / 508, xref="paper", yref="paper", showarrow=False,
        xanchor="center", yanchor="middle", font=dict(family=FONT, size=18, color="black")))
    layout["annotations"].append(dict(
        text="x2", x=[26, 280, 501][i] / 710, y=1 - 246 / 508, xref="paper", yref="paper",
        showarrow=False, textangle=-90, xanchor="center", yanchor="middle",
        font=dict(family=FONT, size=18, color="black")))

fig.update_layout(**layout)
fig.write_html(
    "out.html",
    config={"displayModeBar": False},
    post_script="document.body.style.margin='0';document.body.style.padding='0';",
)
